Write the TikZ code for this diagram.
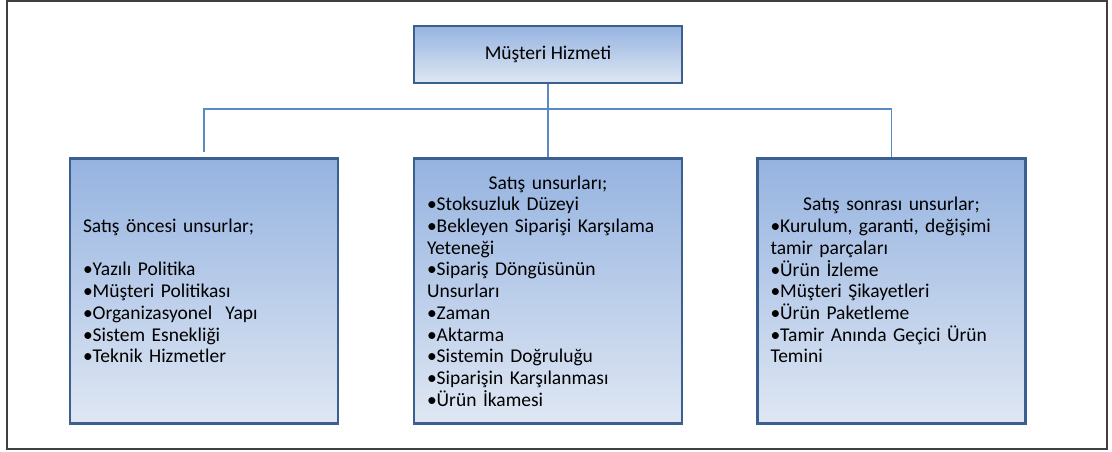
\documentclass[tikz,border=0pt]{standalone}
\usepackage{fontspec}
\setmainfont{Carlito}
\usetikzlibrary{positioning}

\definecolor{kenar}{HTML}{3B5F8E}
\definecolor{ustRenk}{HTML}{95B3E0}
\definecolor{altRenk}{HTML}{DFE7F3}
\definecolor{hat}{HTML}{5B89C5}

\tikzset{
  kutu/.style={draw=kenar, line width=2.6pt, top color=ustRenk, bottom color=altRenk,
    minimum width=268pt, minimum height=265pt, inner xsep=13pt, inner ysep=0pt,
    text width=242pt, font=\fontsize{19.5}{21.7}\selectfont},
  baslik/.style={draw=kenar, line width=2.6pt, top color=ustRenk, bottom color=altRenk,
    minimum width=268pt, minimum height=57pt, font=\fontsize{19.5}{21.7}\selectfont},
  link/.style={draw=hat, line width=1.2pt}
}

\begin{document}
\begin{tikzpicture}[x=1pt,y=-1pt]
    \useasboundingbox (0,0) rectangle (1112,452);
    \draw[black!75, line width=1.5pt] (7,1) rectangle (1107,449);

    \node[baslik] (hizmet) at (548,54.5) {Müşteri Hizmeti};

    \node[kutu] (once) at (204,291) {\raggedright
      Satış öncesi unsurlar;\\ ~\\
      •Yazılı Politika\\
      •Müşteri Politikası\\
      •Organizasyonel\ \ Yapı\\
      •Sistem Esnekliği\\
      •Teknik Hizmetler};

    \node[kutu] (satis) at (548,291) {{\centering Satış unsurları;\par}\raggedright
      •Stoksuzluk Düzeyi\\
      •Bekleyen Siparişi Karşılama\\
      Yeteneği\\
      •Sipariş Döngüsünün\\
      Unsurları\\
      •Zaman\\
      •Aktarma\\
      •Sistemin Doğruluğu\\
      •Siparişin Karşılanması\\
      •Ürün İkamesi};

    \node[kutu] (sonra) at (891.5,291) {{\centering Satış sonrası unsurlar;\par}\raggedright
      •Kurulum, garanti, değişimi\\
      tamir parçaları\\
      •Ürün İzleme\\
      •Müşteri Şikayetleri\\
      •Ürün Paketleme\\
      •Tamir Anında Geçici Ürün\\
      Temini\\ ~};

    \coordinate (hatSol) at (204,109);
    \coordinate (hatSag) at (891.5,109);
    \coordinate[above=5pt of once.north] (solUc);

    \draw[link] (hizmet.south) -- (satis.north);
    \draw[link] (solUc) -- (hatSol) -- (hatSag) -- (sonra.north);
\end{tikzpicture}
\end{document}
